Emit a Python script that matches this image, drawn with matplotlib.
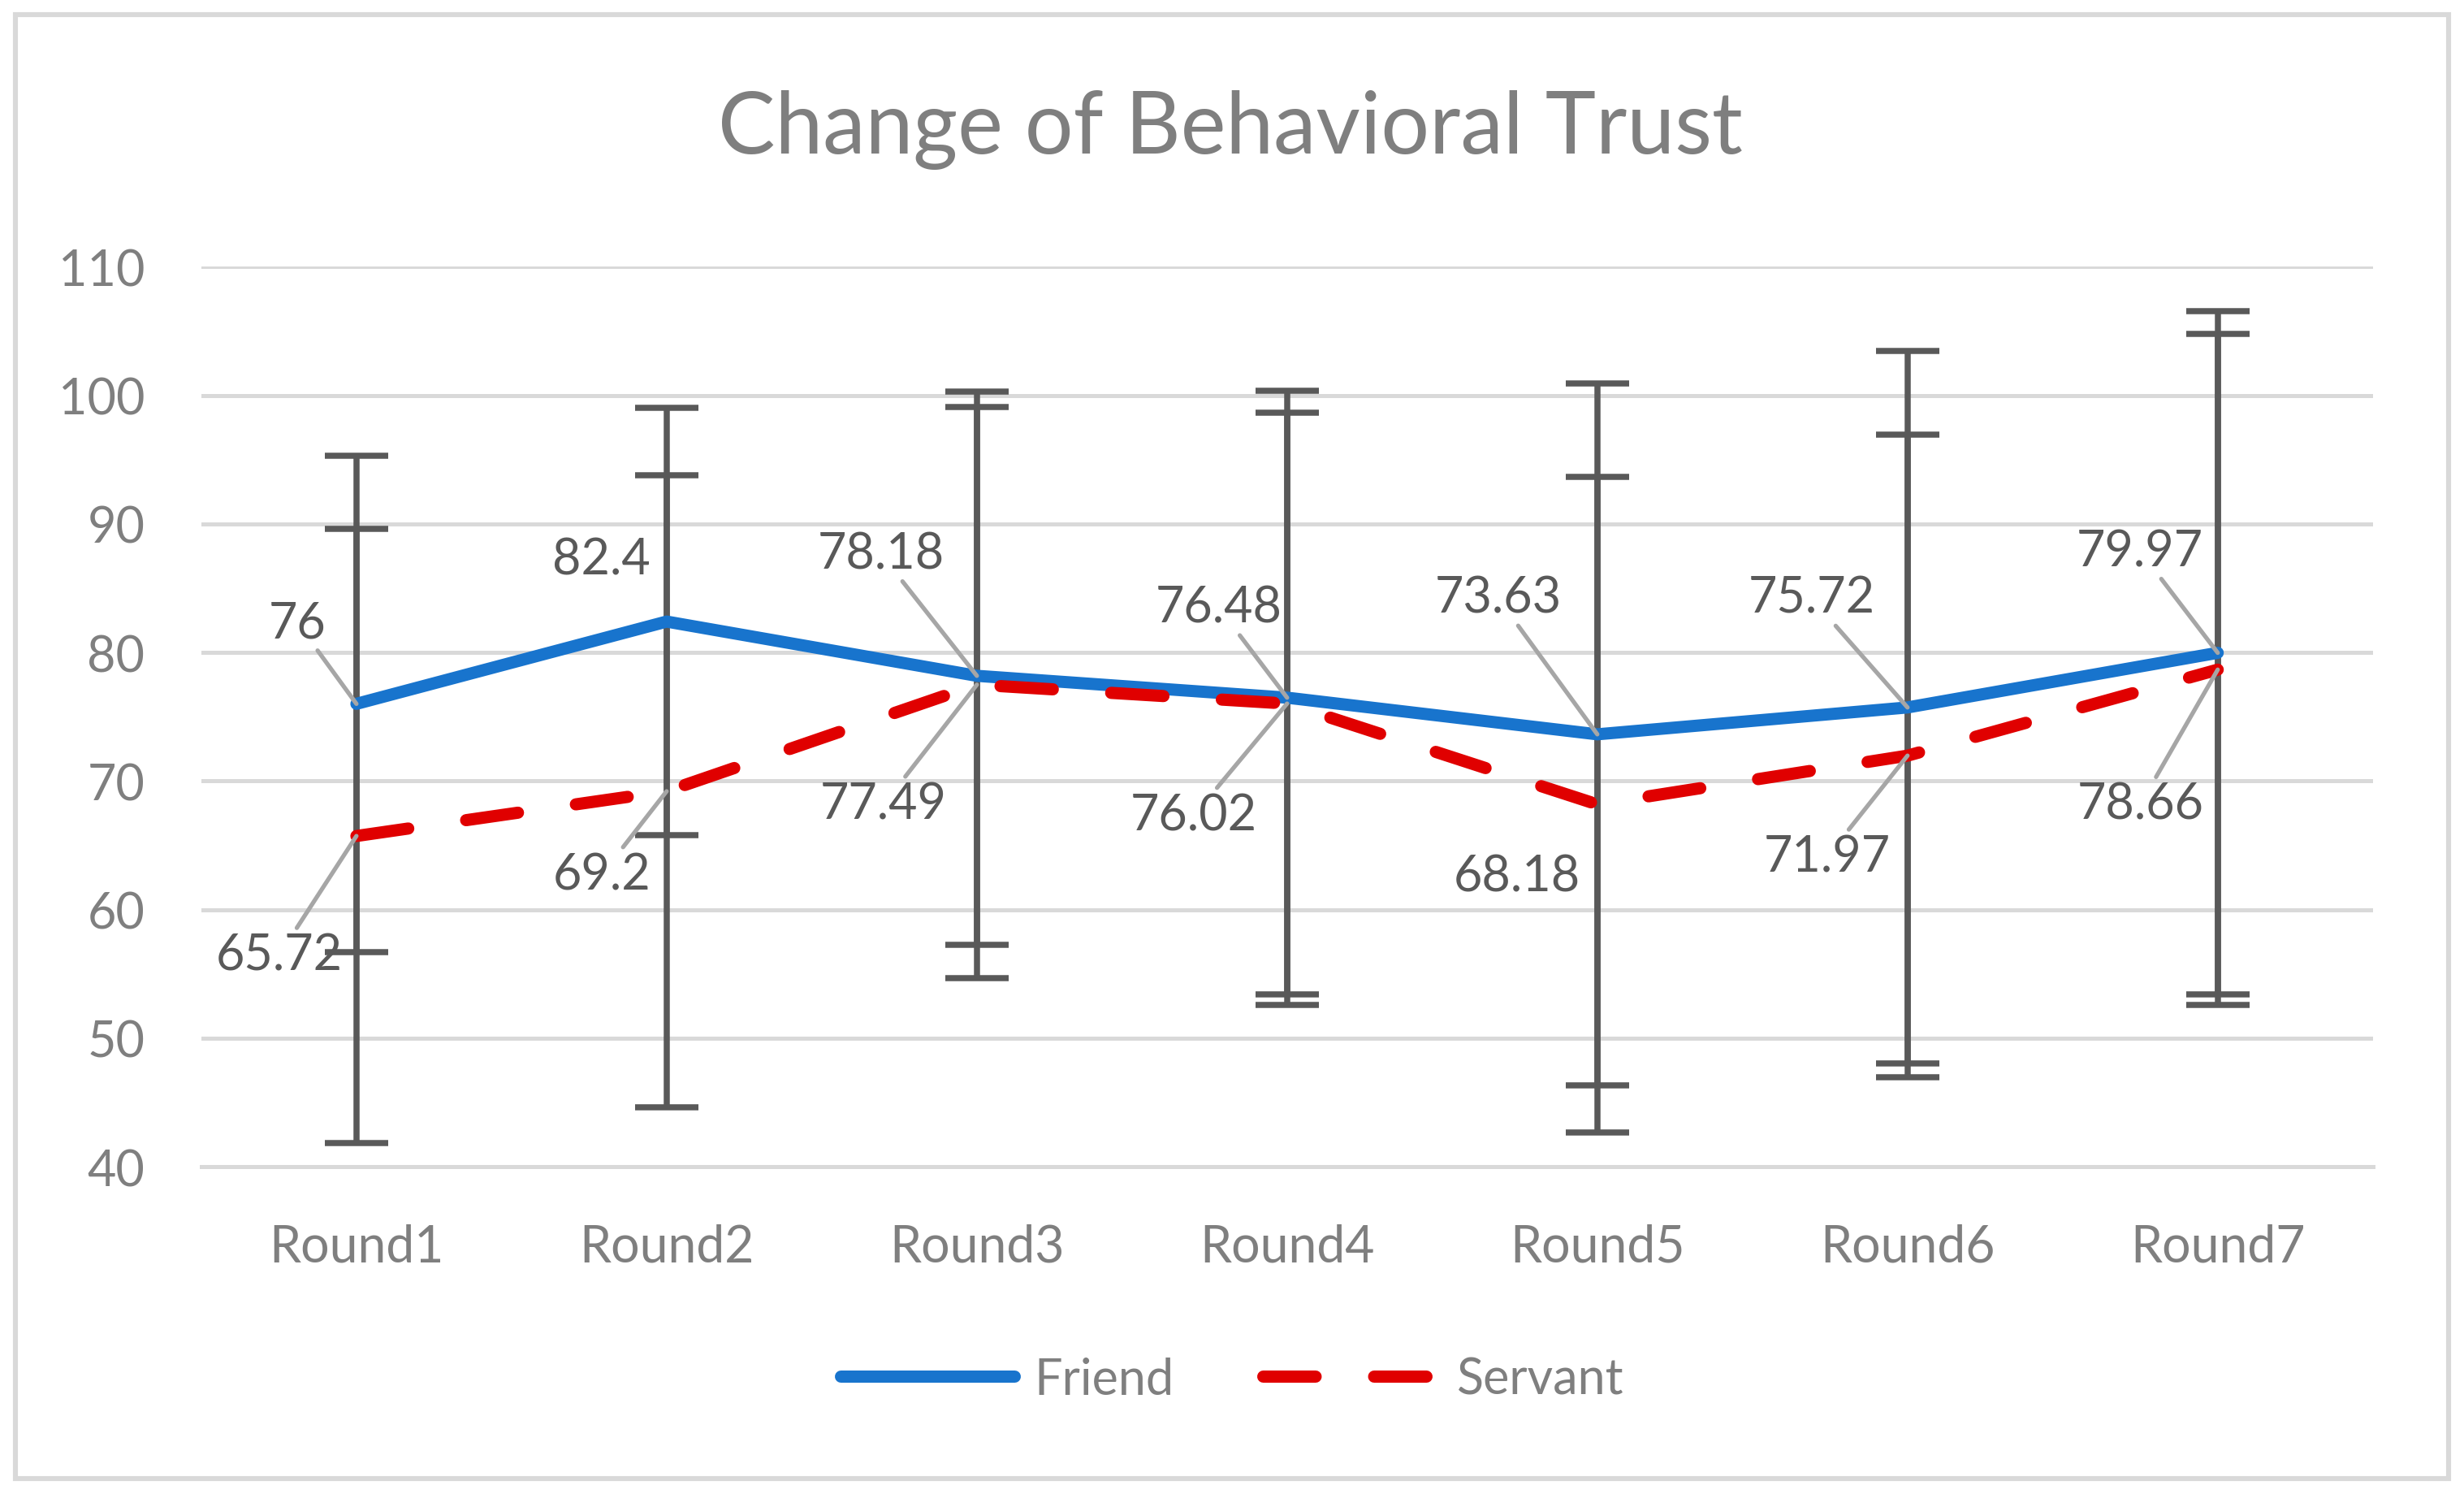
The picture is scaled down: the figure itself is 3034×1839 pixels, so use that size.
import matplotlib.pyplot as plt
from matplotlib.patches import Rectangle

plt.rcParams['font.family'] = ['Lato', 'DejaVu Sans']

rounds = ['Round1', 'Round2', 'Round3', 'Round4', 'Round5', 'Round6', 'Round7']
friend = [76, 82.4, 78.18, 76.48, 73.63, 75.72, 79.97]
friend_sd = [19.3, 16.6, 20.9, 23.9, 27.3, 27.7, 26.6]
servant = [65.72, 69.2, 77.49, 76.02, 68.18, 71.97, 78.66]
servant_sd = [23.9, 24.6, 22.8, 22.6, 25.5, 25.0, 26.1]
yticks = [40, 50, 60, 70, 80, 90, 100, 110]

# label offsets (category units, value units) from the point
friend_off = [(-0.19, 6.3), (-0.21, 4.8), (-0.31, 9.5), (-0.22, 7.0), (-0.32, 10.6), (-0.31, 8.5), (-0.25, 7.9)]
servant_off = [(-0.25, -9.3), (-0.21, -6.5), (-0.30, -9.3), (-0.30, -8.7), (-0.26, -5.6), (-0.26, -7.9), (-0.25, -10.5)]
friend_leader = [True, False, True, True, True, True, True]
servant_leader = [True, True, True, True, False, True, True]

blue = '#1874cd'
red = '#e00000'
label_col = '#595959'
text_col = '#7f7f7f'
grid_col = '#d9d9d9'

fig = plt.figure(figsize=(15.17, 9.2), dpi=200)
ax = fig.add_axes([0.0817, 0.219, 0.8813, 0.602])
x = list(range(len(rounds)))

ax.errorbar(x, friend, yerr=friend_sd, fmt='none', ecolor='#595959',
            elinewidth=2.7, capsize=14, capthick=2.7, zorder=2)
ax.errorbar(x, servant, yerr=servant_sd, fmt='none', ecolor='#595959',
            elinewidth=2.7, capsize=14, capthick=2.7, zorder=2)

ax.plot(x, friend, color=blue, lw=5.4, solid_capstyle='round',
        solid_joinstyle='round', label='Friend', zorder=3)
ax.plot(x, servant, color=red, lw=5.4, linestyle=(0, (4.3, 4.8)),
        dash_capstyle='round', label='Servant', zorder=3)

for vals, offs, leads in [(friend, friend_off, friend_leader),
                          (servant, servant_off, servant_leader)]:
    for i, v in enumerate(vals):
        dx, dy = offs[i]
        txt = f'{v:g}'
        if leads[i]:
            ax.annotate(txt, xy=(i, v), xytext=(i + dx, v + dy),
                        ha='center', va='center', fontsize=22, color=label_col,
                        arrowprops=dict(arrowstyle='-', color='#a6a6a6', lw=1.9,
                                        shrinkA=0, shrinkB=0),
                        zorder=5)
        else:
            ax.text(i + dx, v + dy, txt, ha='center', va='center',
                    fontsize=22, color=label_col, zorder=5)

ax.set_xlim(-0.5, 6.5)
ax.set_ylim(40, 110)
ax.set_yticks(yticks)
ax.set_xticks(x)
ax.set_xticklabels(rounds)
ax.grid(axis='y', color=grid_col, lw=1.8)
ax.set_axisbelow(True)
for s in ['top', 'right', 'left']:
    ax.spines[s].set_visible(False)
ax.spines['bottom'].set_color(grid_col)
ax.spines['bottom'].set_linewidth(1.8)
ax.tick_params(axis='both', length=0, labelsize=22, colors=text_col)
ax.tick_params(axis='x', labelsize=22.5)
ax.tick_params(axis='y', pad=25)
ax.tick_params(axis='x', pad=25)

fig.text(0.4994, 0.913, 'Change of Behavioral Trust', ha='center', va='center',
         fontsize=38, color=text_col)

leg = fig.legend(loc='center', bbox_to_anchor=(0.5, 0.0766), ncol=2, frameon=False,
                 fontsize=22, handlelength=3.5, handletextpad=0.4, columnspacing=1.8)
for t in leg.get_texts():
    t.set_color(text_col)

fig.patches.append(Rectangle((0.0063, 0.0105), 0.9874, 0.979, transform=fig.transFigure,
                             fill=False, edgecolor=grid_col, lw=2.2))

fig.savefig('out.png', dpi=200, facecolor='white')
